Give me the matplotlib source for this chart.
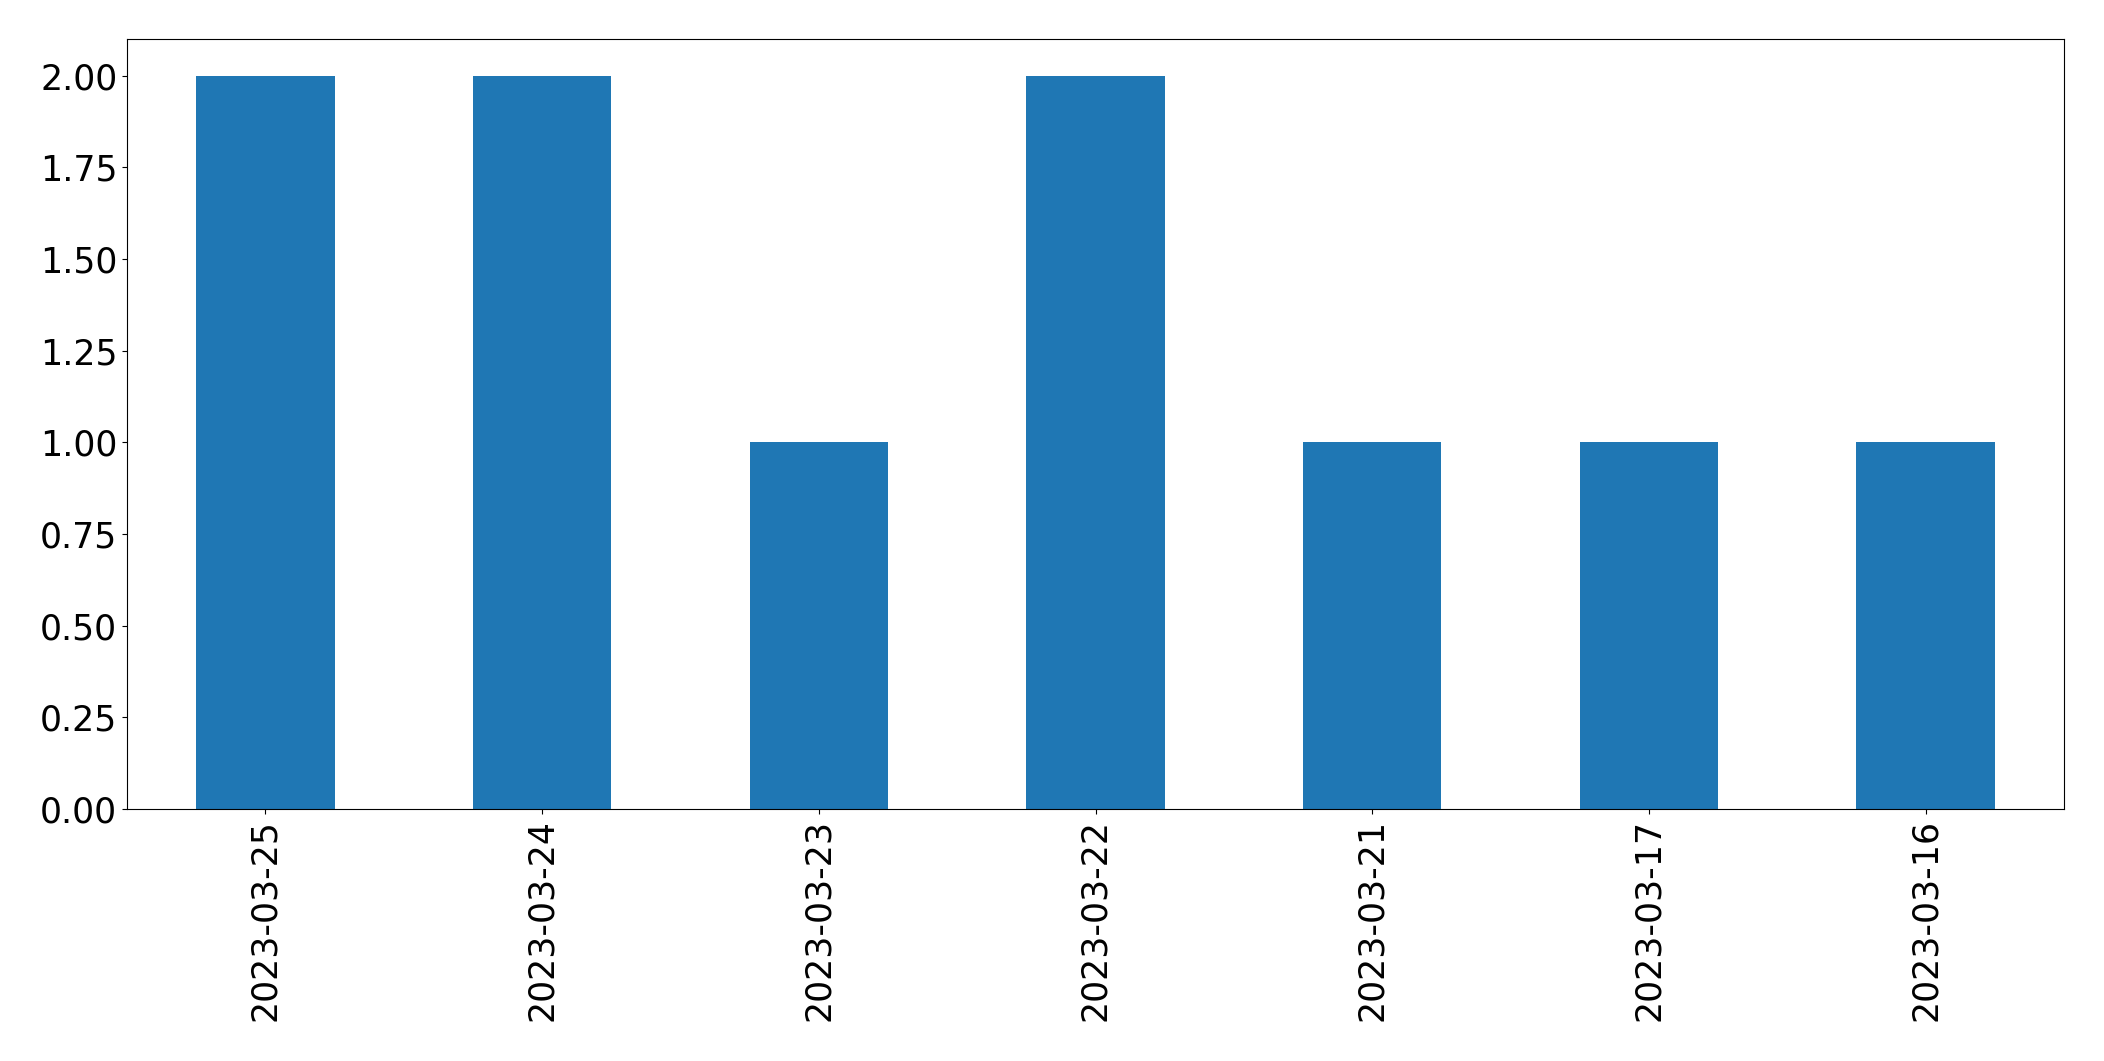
import matplotlib
matplotlib.use("Agg")
import matplotlib.pyplot as plt
import pandas as pd

dates = ["2023-03-25", "2023-03-24", "2023-03-23", "2023-03-22",
         "2023-03-21", "2023-03-17", "2023-03-16"]
counts = [2, 2, 1, 2, 1, 1, 1]

series = pd.Series(counts, index=dates)

fig, ax = plt.subplots(figsize=(21.04, 10.61), dpi=100)
fig.subplots_adjust(left=127 / 2104, right=2064 / 2104,
                    top=1 - 39 / 1061, bottom=1 - 809 / 1061)
series.plot(kind="bar", ax=ax, color="#1f77b4")
ax.tick_params(axis="both", labelsize=25)
ax.set_yticks([0, 0.25, 0.5, 0.75, 1.0, 1.25, 1.5, 1.75, 2.0])
ax.set_yticklabels([f"{v:.2f}" for v in ax.get_yticks()])
ax.set_ylim(0, 2.1)

fig.savefig("out.png", dpi=100)
